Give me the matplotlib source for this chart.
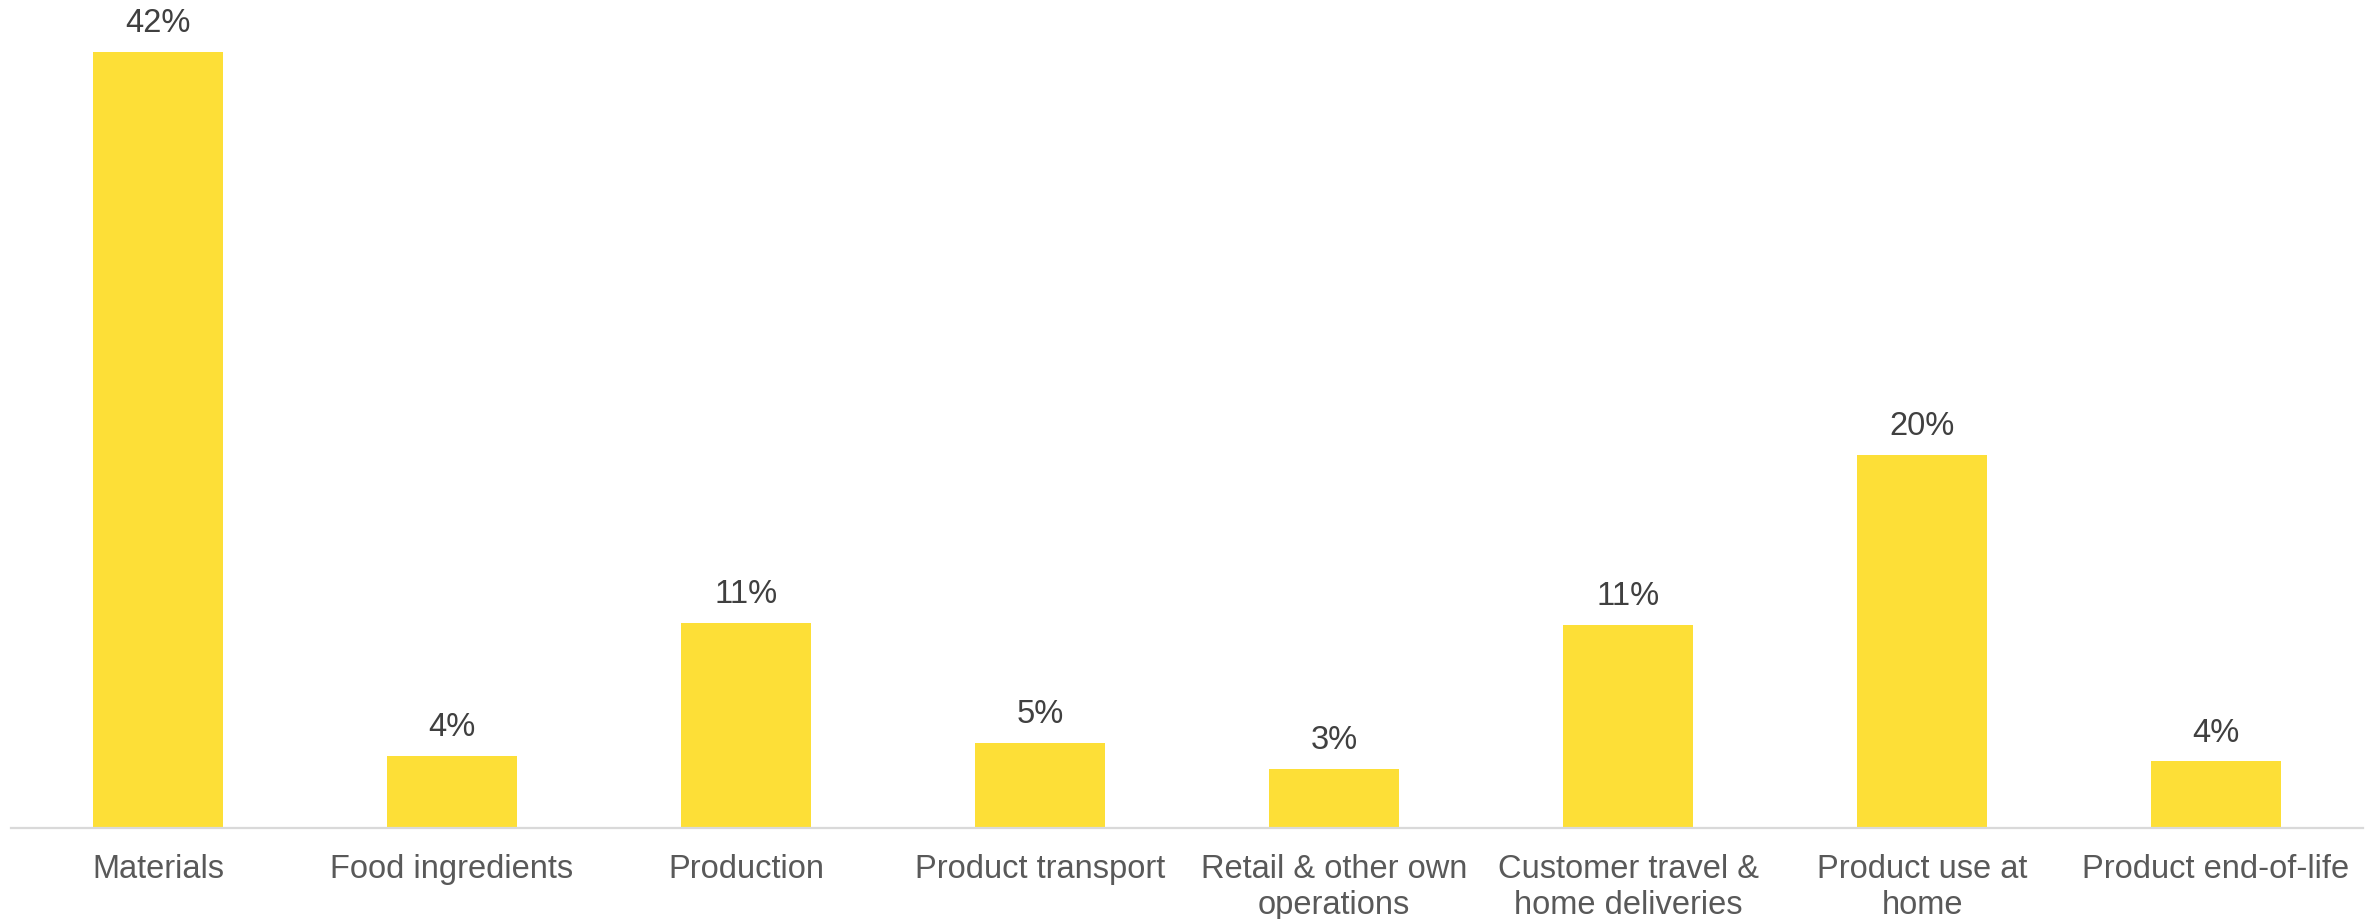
import matplotlib
matplotlib.use("Agg")
import matplotlib.pyplot as plt

categories = ["Materials", "Food ingredients", "Production", "Product transport",
              "Retail & other own\noperations", "Customer travel &\nhome deliveries",
              "Product use at\nhome", "Product end-of-life"]
shares = [42.0, 3.9, 11.1, 4.6, 3.2, 11.0, 20.2, 3.6]

plt.rcParams['font.family'] = ['Liberation Sans', 'DejaVu Sans']

fig = plt.figure(figsize=(23.74, 9.19), dpi=100)
ax = fig.add_axes([11 / 2374, 91 / 919, 2352 / 2374, 828 / 919])

x = range(len(categories))
bars = ax.bar(x, shares, width=0.44, color="#FDDF37")

for b, v in zip(bars, shares):
    ax.annotate(f"{v:.0f}%", (b.get_x() + b.get_width() / 2, v),
                xytext=(0, 9), textcoords="offset points",
                ha="center", va="bottom", fontsize=23.5, color="#404040")

ax.set_xlim(-0.5, len(categories) - 0.5)
ax.set_ylim(0, 44.8)
ax.set_xticks(list(x))
ax.set_xticklabels(categories, fontsize=23.5, color="#595959", linespacing=1.18)
ax.tick_params(axis="x", length=0, pad=19)
ax.set_yticks([])

for s in ["top", "right", "left"]:
    ax.spines[s].set_visible(False)
ax.spines["bottom"].set_color("#D9D9D9")
ax.spines["bottom"].set_linewidth(1.6)

fig.savefig("out.png", dpi=100)
